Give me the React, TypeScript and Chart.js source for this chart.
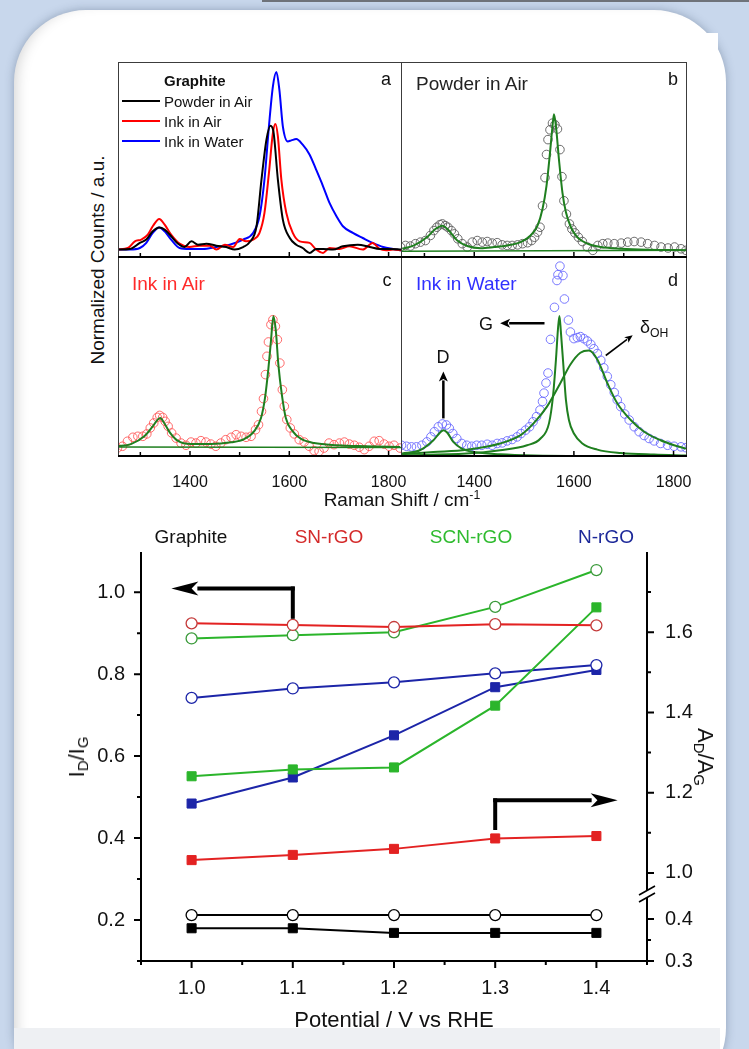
import React, { useEffect, useRef } from 'react';
import { Chart, registerables } from 'chart.js';

Chart.register(...registerables);

const FONT = "'Liberation Sans', Arial, Helvetica, sans-serif";

// ---------- Raman spectra (top figure) ----------
const ramanMin = 1255;
const ramanMax = 1827;
const ramanTicks = [1300, 1400, 1500, 1600, 1700, 1800];
const ramanLabelled = [1400, 1600, 1800];

// panel a
const powderShiftA = [1255,1279,1299,1312,1325,1338,1349,1362,1376,1389,1403,1416,1433,1453,1473,1490,1507,1520,1534,1544,1554,1562,1568,1577,1587,1601,1614,1627,1641,1654,1668,1688,1708,1738,1762,1782,1802,1826];
const powderCountsA = [0.043,0.046,0.077,0.094,0.136,0.156,0.145,0.111,0.073,0.056,0.085,0.068,0.073,0.063,0.056,0.043,0.056,0.080,0.162,0.400,0.604,0.675,0.646,0.400,0.196,0.102,0.068,0.051,0.026,0.046,0.046,0.043,0.060,0.068,0.056,0.046,0.046,0.043];
const inkAirShiftA = [1255,1275,1289,1302,1315,1325,1338,1349,1362,1379,1399,1419,1440,1453,1470,1487,1500,1513,1527,1540,1550,1559,1567,1572,1577,1584,1594,1607,1621,1641,1654,1668,1681,1701,1721,1748,1768,1782,1795,1809,1826];
const inkAirCountsA = [0.043,0.051,0.085,0.094,0.119,0.162,0.199,0.170,0.119,0.073,0.056,0.063,0.063,0.043,0.068,0.056,0.097,0.085,0.094,0.128,0.230,0.434,0.638,0.684,0.621,0.400,0.230,0.128,0.085,0.077,0.043,0.026,0.051,0.046,0.060,0.043,0.077,0.046,0.039,0.043,0.039];
const inkWaterShiftA = [1255,1279,1299,1312,1325,1338,1349,1362,1379,1399,1426,1453,1480,1507,1527,1540,1550,1559,1567,1574,1580,1587,1597,1604,1614,1627,1641,1654,1668,1681,1695,1708,1728,1748,1768,1789,1809,1826];
const inkWaterCountsA = [0.043,0.043,0.051,0.077,0.128,0.156,0.136,0.094,0.051,0.046,0.046,0.056,0.068,0.094,0.128,0.213,0.400,0.672,0.876,0.949,0.859,0.672,0.595,0.600,0.607,0.578,0.527,0.451,0.366,0.281,0.213,0.162,0.128,0.102,0.077,0.056,0.046,0.039];

// panel b
const powderShiftB = [1252,1262,1272,1282,1292,1302,1312,1319,1325,1331,1336,1342,1347,1354,1360,1367,1376,1386,1396,1406,1416,1426,1436,1446,1456,1466,1476,1487,1497,1507,1515,1521,1527,1532,1537,1542,1545,1548,1552,1557,1562,1567,1572,1576,1580,1585,1591,1596,1602,1609,1617,1627,1638,1648,1658,1668,1681,1695,1708,1721,1735,1748,1762,1775,1789,1802,1815,1825];
const powderCountsB = [0.056,0.064,0.061,0.073,0.081,0.089,0.115,0.140,0.157,0.170,0.174,0.165,0.157,0.140,0.123,0.098,0.073,0.056,0.081,0.089,0.081,0.084,0.076,0.078,0.067,0.064,0.064,0.067,0.073,0.078,0.089,0.106,0.132,0.157,0.266,0.410,0.528,0.604,0.654,0.688,0.680,0.658,0.553,0.415,0.292,0.224,0.174,0.148,0.128,0.106,0.084,0.056,0.039,0.064,0.073,0.076,0.073,0.076,0.081,0.084,0.081,0.073,0.064,0.056,0.051,0.056,0.047,0.039];
const fitShiftB = [1256,1279,1305,1322,1336,1349,1366,1386,1413,1440,1466,1493,1513,1527,1537,1545,1552,1557,1560,1564,1570,1577,1584,1594,1607,1627,1654,1695,1748,1825];
const fitCountsB = [0.047,0.064,0.106,0.148,0.165,0.140,0.089,0.061,0.050,0.056,0.064,0.081,0.115,0.165,0.250,0.368,0.536,0.671,0.733,0.671,0.503,0.334,0.233,0.157,0.106,0.073,0.056,0.047,0.042,0.040];
const baseShiftB = [1255, 1827];
const baseCountsB = [0.035, 0.040];

// panel c
const inkAirShiftC = [1254,1264,1274,1285,1295,1305,1313,1320,1327,1334,1339,1345,1350,1356,1363,1372,1382,1392,1402,1412,1422,1432,1442,1452,1462,1472,1483,1493,1503,1513,1523,1532,1538,1544,1548,1552,1555,1558,1563,1567,1572,1576,1581,1586,1590,1595,1602,1610,1620,1630,1640,1650,1660,1670,1680,1690,1701,1711,1721,1731,1741,1751,1761,1771,1781,1791,1801,1811,1823];
const inkAirCountsC = [0.045,0.054,0.079,0.099,0.104,0.104,0.116,0.146,0.171,0.199,0.209,0.199,0.179,0.154,0.121,0.095,0.070,0.059,0.075,0.070,0.082,0.075,0.065,0.054,0.070,0.087,0.099,0.112,0.104,0.099,0.104,0.137,0.162,0.229,0.293,0.414,0.506,0.578,0.665,0.690,0.657,0.590,0.472,0.338,0.255,0.188,0.146,0.116,0.087,0.075,0.054,0.032,0.028,0.045,0.070,0.062,0.070,0.075,0.065,0.059,0.049,0.037,0.054,0.079,0.082,0.065,0.054,0.059,0.045];
const fitShiftC = [1253,1281,1308,1325,1335,1340,1348,1360,1375,1402,1442,1483,1509,1529,1543,1551,1558,1563,1568,1573,1578,1585,1593,1607,1623,1650,1697,1751,1823];
const fitCountsC = [0.054,0.065,0.104,0.154,0.188,0.196,0.171,0.121,0.082,0.065,0.065,0.074,0.090,0.129,0.196,0.296,0.447,0.581,0.707,0.631,0.464,0.313,0.196,0.129,0.092,0.070,0.059,0.054,0.050];
const baseShiftC = [1255, 1827];
const baseCountsC = [0.050, 0.048];

// panel d
const inkWaterShiftD = [1254,1264,1274,1284,1295,1305,1313,1320,1328,1336,1344,1350,1357,1365,1375,1385,1395,1405,1415,1426,1436,1446,1456,1466,1476,1486,1494,1503,1511,1518,1525,1532,1537,1540,1544,1548,1553,1561,1566,1568,1572,1578,1581,1589,1593,1600,1607,1613,1620,1627,1634,1640,1647,1654,1660,1667,1674,1681,1687,1694,1702,1711,1721,1731,1741,1751,1761,1774,1788,1801,1815,1825];
const inkWaterCountsD = [0.059,0.054,0.051,0.051,0.059,0.076,0.101,0.127,0.152,0.166,0.161,0.144,0.118,0.093,0.068,0.059,0.054,0.059,0.059,0.064,0.059,0.068,0.071,0.081,0.088,0.101,0.118,0.135,0.152,0.177,0.203,0.236,0.279,0.321,0.372,0.422,0.591,0.752,0.887,0.916,0.959,0.912,0.794,0.688,0.628,0.595,0.600,0.605,0.595,0.583,0.566,0.544,0.520,0.486,0.448,0.405,0.363,0.324,0.287,0.253,0.216,0.186,0.152,0.127,0.108,0.093,0.081,0.068,0.059,0.054,0.051,0.047];
const dBandShiftD = [1254,1291,1318,1331,1338,1346,1358,1375,1399,1452,1519,1654,1825];
const dBandCountsD = [0.017,0.034,0.084,0.122,0.135,0.122,0.076,0.042,0.025,0.014,0.008,0.005,0.003];
const gBandShiftD = [1254,1385,1452,1506,1533,1550,1558,1564,1568,1571,1574,1579,1584,1590,1600,1617,1647,1694,1761,1825];
const gBandCountsD = [0.008,0.017,0.034,0.059,0.093,0.169,0.304,0.490,0.642,0.709,0.625,0.456,0.287,0.186,0.118,0.068,0.037,0.020,0.012,0.008];
const ohBandShiftD = [1254,1318,1385,1452,1493,1519,1546,1573,1593,1613,1630,1647,1667,1687,1714,1741,1774,1801,1825];
const ohBandCountsD = [0.014,0.025,0.037,0.068,0.110,0.169,0.253,0.372,0.465,0.524,0.535,0.490,0.372,0.270,0.186,0.127,0.084,0.059,0.042];
const baseShiftD = [1255, 1827];
const baseCountsD = [0.005, 0.005];

// ---------- I_D/I_G and A_D/A_G vs potential (bottom figure) ----------
const potential = [1.0, 1.1, 1.2, 1.3, 1.4];
const graphiteIDIG = [0.212, 0.212, 0.212, 0.212, 0.212];
const snIDIG = [0.924, 0.920, 0.915, 0.922, 0.919];
const scnIDIG = [0.887, 0.895, 0.902, 0.964, 1.054];
const nIDIG = [0.742, 0.765, 0.780, 0.802, 0.822];
const graphiteADAG = [0.378, 0.378, 0.367, 0.367, 0.367];
const snADAG = [1.032, 1.045, 1.060, 1.086, 1.092];
const scnADAG = [1.241, 1.258, 1.263, 1.417, 1.662];
const nADAG = [1.173, 1.238, 1.343, 1.463, 1.506];
const potentialTicks = [0.95, 1.0, 1.05, 1.1, 1.15, 1.2, 1.25, 1.3, 1.35, 1.4, 1.45];
const idigTicks = [0.1, 0.2, 0.3, 0.4, 0.5, 0.6, 0.7, 0.8, 0.9, 1.0];
const adagUpperTicks = [1.0, 1.1, 1.2, 1.3, 1.4, 1.5, 1.6, 1.7];
const adagLowerTicks = [0.3, 0.35, 0.4];

const GREEN_FIT = '#1f7f1f';
const RED = '#e32222';
const GREEN = '#2bb52b';
const BLUE = '#1c25a8';

const pts = (xs: number[], ys: number[]) => xs.map((x, i) => ({ x, y: ys[i] }));

const lineDs = (xs: number[], ys: number[], color: string, width = 2) => ({
  data: pts(xs, ys),
  showLine: true,
  borderColor: color,
  backgroundColor: color,
  borderWidth: width,
  pointRadius: 0,
  pointHoverRadius: 0,
  cubicInterpolationMode: 'monotone',
  fill: false,
});

const circleDs = (xs: number[], ys: number[], color: string) => ({
  data: pts(xs, ys),
  showLine: false,
  borderColor: color,
  pointRadius: 4.3,
  pointHoverRadius: 4.3,
  pointBorderWidth: 0.9,
  pointBorderColor: color,
  pointBackgroundColor: 'rgba(0,0,0,0)',
});

function drawArrow(ctx: CanvasRenderingContext2D, x1: number, y1: number, x2: number, y2: number, lw: number, headLen: number, headHalf: number) {
  const ang = Math.atan2(y2 - y1, x2 - x1);
  const bx = x2 - headLen * Math.cos(ang);
  const by = y2 - headLen * Math.sin(ang);
  ctx.lineWidth = lw;
  ctx.beginPath();
  ctx.moveTo(x1, y1);
  ctx.lineTo(bx + Math.cos(ang), by + Math.sin(ang));
  ctx.stroke();
  ctx.beginPath();
  ctx.moveTo(x2, y2);
  ctx.lineTo(bx + headHalf * Math.sin(ang), by - headHalf * Math.cos(ang));
  ctx.lineTo(bx + 0.25 * headLen * Math.cos(ang), by + 0.25 * headLen * Math.sin(ang));
  ctx.lineTo(bx - headHalf * Math.sin(ang), by + headHalf * Math.cos(ang));
  ctx.closePath();
  ctx.fill();
}

type FrameOpts = { drawTop: boolean; drawLeft: boolean; extra?: (chart: any) => void };

const framePlugin = (o: FrameOpts) => ({
  id: 'frame',
  afterDraw(chart: any) {
    const { ctx, chartArea: a, scales } = chart;
    ctx.save();
    ctx.strokeStyle = '#3c3c3c';
    ctx.lineWidth = 1;
    ctx.beginPath();
    if (o.drawTop) { ctx.moveTo(a.left, a.top + 0.5); ctx.lineTo(a.right, a.top + 0.5); }
    if (o.drawLeft) { ctx.moveTo(a.left + 0.5, a.top); ctx.lineTo(a.left + 0.5, a.bottom); }
    ctx.moveTo(a.right - 0.5, a.top); ctx.lineTo(a.right - 0.5, a.bottom);
    ctx.stroke();
    ctx.strokeStyle = '#000';
    ctx.lineWidth = 2;
    ctx.beginPath();
    ctx.moveTo(a.left, a.bottom - 1);
    ctx.lineTo(a.right, a.bottom - 1);
    ctx.stroke();
    ctx.lineWidth = 1.5;
    for (const t of ramanTicks) {
      const x = scales.x.getPixelForValue(t);
      const len = ramanLabelled.includes(t) ? 5 : 4;
      ctx.beginPath();
      ctx.moveTo(x, a.bottom - 1);
      ctx.lineTo(x, a.bottom - 1 - len);
      ctx.stroke();
    }
    if (o.extra) o.extra(chart);
    ctx.restore();
  },
});

function spectraConfig(datasets: any[], showX: boolean, frame: FrameOpts): any {
  return {
    type: 'scatter',
    data: { datasets },
    options: {
      animation: false,
      responsive: false,
      maintainAspectRatio: false,
      events: [],
      layout: { padding: { left: 0, top: 0, bottom: 0, right: showX ? 30 : 0 }, autoPadding: false },
      plugins: { legend: { display: false }, tooltip: { enabled: false } },
      scales: {
        x: {
          type: 'linear',
          min: ramanMin,
          max: ramanMax,
          display: showX,
          grid: { display: false },
          border: { display: false },
          afterBuildTicks: (s: any) => { s.ticks = ramanTicks.map((v) => ({ value: v })); },
          afterFit: (s: any) => {
            if (showX) s.height = 45;
            s.paddingLeft = 0;
            s.paddingRight = 0;
          },
          ticks: {
            autoSkip: false,
            maxRotation: 0,
            padding: 8,
            color: '#111',
            font: { family: FONT, size: 16 },
            callback: (v: any) => (ramanLabelled.includes(Number(v)) ? String(v) : ''),
          },
        },
        y: { type: 'linear', min: 0, max: 1, display: false },
      },
    },
    plugins: [framePlugin(frame)],
  };
}

const panelDExtra = (chart: any) => {
  const { ctx, scales: { x, y } } = chart;
  ctx.strokeStyle = '#000';
  ctx.fillStyle = '#000';
  drawArrow(ctx, x.getPixelForValue(1338), y.getPixelForValue(0.194), x.getPixelForValue(1338), y.getPixelForValue(0.43), 2.5, 10, 4.5);
  drawArrow(ctx, x.getPixelForValue(1541), y.getPixelForValue(0.672), x.getPixelForValue(1452), y.getPixelForValue(0.672), 2.5, 10, 4.5);
  drawArrow(ctx, x.getPixelForValue(1664), y.getPixelForValue(0.51), x.getPixelForValue(1718), y.getPixelForValue(0.612), 1.6, 8, 3.5);
};

const isEvenTenth = (v: number) => Math.round(v * 10) % 2 === 0;
const isTenth = (v: number) => Math.round(v * 100) % 10 === 0;

const tickFont = { family: FONT, size: 20 };

const potentialPlugin = {
  id: 'potentialAxes',
  afterDraw(chart: any) {
    const { ctx, chartArea: a, scales } = chart;
    const { x, y, y2, y3 } = scales;
    ctx.save();
    ctx.strokeStyle = '#000';
    ctx.fillStyle = '#000';
    ctx.lineWidth = 2;
    const R = a.right;
    const gapTop = y2.bottom - 3;
    const gapBottom = y2.bottom + 5;
    ctx.beginPath();
    ctx.moveTo(a.left, a.top); ctx.lineTo(a.left, a.bottom + 1);
    ctx.moveTo(a.left - 1, a.bottom); ctx.lineTo(R + 1, a.bottom);
    ctx.moveTo(R, a.top); ctx.lineTo(R, gapTop);
    ctx.moveTo(R, gapBottom); ctx.lineTo(R, a.bottom + 1);
    ctx.stroke();
    // break marks
    ctx.lineWidth = 1.6;
    ctx.beginPath();
    ctx.moveTo(R - 8, gapTop + 5); ctx.lineTo(R + 8, gapTop - 4);
    ctx.moveTo(R - 8, gapBottom + 4); ctx.lineTo(R + 8, gapBottom - 5);
    ctx.stroke();
    // ticks
    ctx.lineWidth = 2;
    ctx.beginPath();
    y.ticks.forEach((t: any) => {
      const py = y.getPixelForValue(t.value);
      const len = isEvenTenth(t.value) ? 7 : 4;
      ctx.moveTo(a.left, py); ctx.lineTo(a.left - len, py);
    });
    x.ticks.forEach((t: any) => {
      const px = x.getPixelForValue(t.value);
      const len = isTenth(t.value) ? 7 : 4;
      ctx.moveTo(px, a.bottom); ctx.lineTo(px, a.bottom + len);
    });
    y2.ticks.forEach((t: any) => {
      const py = y2.getPixelForValue(t.value);
      const len = isEvenTenth(t.value) ? 7 : 4;
      ctx.moveTo(R, py); ctx.lineTo(R + len, py);
    });
    y3.ticks.forEach((t: any) => {
      const py = y3.getPixelForValue(t.value);
      const len = isTenth(t.value) ? 7 : 4;
      ctx.moveTo(R, py); ctx.lineTo(R + len, py);
    });
    ctx.stroke();
    // annotation arrows
    ctx.lineWidth = 4;
    const lx = x.getPixelForValue(1.1);
    const ly0 = y.getPixelForValue(0.935);
    const ly1 = y.getPixelForValue(1.009);
    ctx.beginPath(); ctx.moveTo(lx, ly0); ctx.lineTo(lx, ly1 - 2); ctx.stroke();
    drawArrow(ctx, lx + 2, ly1, x.getPixelForValue(0.98), ly1, 4, 27, 7);
    const rx = x.getPixelForValue(1.3);
    const ry0 = y2.getPixelForValue(1.107);
    const ry1 = y2.getPixelForValue(1.181);
    ctx.lineWidth = 4;
    ctx.beginPath(); ctx.moveTo(rx, ry0); ctx.lineTo(rx, ry1 - 2); ctx.stroke();
    drawArrow(ctx, rx - 2, ry1, x.getPixelForValue(1.421), ry1, 4, 27, 7);
    ctx.restore();
  },
};

const openCircles = (vals: number[], line: string, edge: string) => ({
  data: pts(potential, vals),
  yAxisID: 'y',
  showLine: true,
  borderColor: line,
  borderWidth: 2,
  pointStyle: 'circle',
  pointRadius: 5.5,
  pointHoverRadius: 5.5,
  pointBorderWidth: 1.3,
  pointBorderColor: edge,
  pointBackgroundColor: '#fff',
});

const filledSquares = (vals: number[], color: string, axis: string) => ({
  data: pts(potential, vals),
  yAxisID: axis,
  showLine: true,
  borderColor: color,
  borderWidth: 2,
  pointStyle: 'rect',
  pointRadius: 6.4,
  pointHoverRadius: 6.4,
  pointBorderWidth: 1,
  pointBorderColor: color,
  pointBackgroundColor: color,
});

function potentialConfig(): any {
  return {
    type: 'scatter',
    data: {
      datasets: [
        openCircles(graphiteIDIG, '#000', '#000'),
        filledSquares(graphiteADAG, '#000', 'y3'),
        openCircles(snIDIG, RED, '#c43a3a'),
        filledSquares(snADAG, RED, 'y2'),
        openCircles(scnIDIG, GREEN, '#3a9a3a'),
        filledSquares(scnADAG, GREEN, 'y2'),
        openCircles(nIDIG, BLUE, BLUE),
        filledSquares(nADAG, BLUE, 'y2'),
      ],
    },
    options: {
      animation: false,
      responsive: false,
      maintainAspectRatio: false,
      events: [],
      layout: { padding: { top: 32, left: 0, right: 0, bottom: 0 }, autoPadding: false },
      plugins: { legend: { display: false }, tooltip: { enabled: false } },
      scales: {
        x: {
          type: 'linear',
          position: 'bottom',
          min: 0.95,
          max: 1.45,
          grid: { display: false },
          border: { display: false },
          afterBuildTicks: (s: any) => { s.ticks = potentialTicks.map((v) => ({ value: v })); },
          afterFit: (s: any) => { s.height = 69; s.paddingLeft = 0; s.paddingRight = 0; },
          ticks: {
            autoSkip: false, maxRotation: 0, padding: 7, color: '#111', font: tickFont,
            callback: (v: any) => (isTenth(Number(v)) ? Number(v).toFixed(1) : ''),
          },
        },
        y: {
          type: 'linear',
          position: 'left',
          min: 0.1,
          max: 1.098,
          grid: { display: false },
          border: { display: false },
          afterBuildTicks: (s: any) => { s.ticks = idigTicks.map((v) => ({ value: v })); },
          afterFit: (s: any) => { s.width = 81; s.paddingTop = 0; s.paddingBottom = 0; },
          ticks: {
            autoSkip: false, padding: 8, color: '#111', font: tickFont,
            callback: (v: any) => (isEvenTenth(Number(v)) && Number(v) > 0.15 ? Number(v).toFixed(1) : ''),
          },
        },
        y2: {
          type: 'linear',
          position: 'right',
          stack: 'adag',
          stackWeight: 341,
          min: 0.95,
          max: 1.8,
          grid: { display: false },
          border: { display: false },
          afterBuildTicks: (s: any) => { s.ticks = adagUpperTicks.map((v) => ({ value: v })); },
          afterFit: (s: any) => { s.width = 93; s.paddingTop = 0; s.paddingBottom = 0; },
          ticks: {
            autoSkip: false, padding: 10, color: '#111', font: tickFont,
            callback: (v: any) => (isEvenTenth(Number(v)) ? Number(v).toFixed(1) : ''),
          },
        },
        y3: {
          type: 'linear',
          position: 'right',
          stack: 'adag',
          stackWeight: 68,
          min: 0.3,
          max: 0.462,
          grid: { display: false },
          border: { display: false },
          afterBuildTicks: (s: any) => { s.ticks = adagLowerTicks.map((v) => ({ value: v })); },
          afterFit: (s: any) => { s.width = 93; s.paddingTop = 0; s.paddingBottom = 0; },
          ticks: {
            autoSkip: false, padding: 10, color: '#111', font: tickFont,
            callback: (v: any) => (isTenth(Number(v)) ? Number(v).toFixed(1) : ''),
          },
        },
      },
    },
    plugins: [potentialPlugin],
  };
}

function ChartCanvas({ left, top, width, height, config }: { left: number; top: number; width: number; height: number; config: () => any }) {
  const ref = useRef<HTMLCanvasElement | null>(null);
  useEffect(() => {
    if (!ref.current) return;
    const chart = new Chart(ref.current, config());
    return () => chart.destroy();
  }, []);
  return (
    <canvas
      ref={ref}
      width={width}
      height={height}
      style={{ position: 'absolute', left, top, width, height, display: 'block' }}
    />
  );
}

function T({ x, y, size, children, color = '#111', align = 'left', bold = false, rotate = 0 }: any) {
  const style: any = {
    position: 'absolute',
    left: x,
    fontSize: size,
    lineHeight: `${size}px`,
    color,
    whiteSpace: 'nowrap',
    fontFamily: FONT,
    fontWeight: bold ? 700 : 400,
  };
  if (rotate) {
    style.top = y;
    style.transform = `translate(-50%, -50%) rotate(${rotate}deg)`;
  } else {
    style.top = y - 0.49 * size;
    if (align === 'center') style.transform = 'translateX(-50%)';
    if (align === 'right') style.transform = 'translateX(-100%)';
  }
  return <div style={style}>{children}</div>;
}

const subStyle: any = { fontSize: '0.68em', verticalAlign: '-0.3em', lineHeight: 0 };
const supStyle: any = { fontSize: '0.65em', verticalAlign: '0.55em', lineHeight: 0 };

function LegendLine({ y, color }: { y: number; color: string }) {
  return <div style={{ position: 'absolute', left: 122, top: y - 1.3, width: 38, height: 2.6, background: color }} />;
}

export default function App() {
  return (
    <div style={{ position: 'absolute', left: 0, top: 0, width: 749, height: 1049, overflow: 'hidden', background: '#c8d7ec', fontFamily: FONT }}>
      <div style={{ position: 'absolute', left: 262, top: 0, width: 487, height: 2, background: '#6f737a' }} />
      <div style={{ position: 'absolute', left: 14, top: 10, width: 712, height: 1090, borderRadius: 72, background: '#fff', boxShadow: '0 0 10px rgba(40,60,90,0.35), inset 10px 0 14px -8px rgba(0,0,0,0.18)' }} />
      <div style={{ position: 'absolute', left: 62, top: 33, width: 656, height: 994, background: '#fff' }} />
      <div style={{ position: 'absolute', left: 14, top: 1028, width: 706, height: 21, background: '#eef0f3' }} />

      {/* spectra panels */}
      <ChartCanvas left={118} top={62} width={284} height={196} config={() => spectraConfig([
        lineDs(powderShiftA, powderCountsA, '#000'),
        lineDs(inkAirShiftA, inkAirCountsA, '#ff0000'),
        lineDs(inkWaterShiftA, inkWaterCountsA, '#0000ff'),
      ], false, { drawTop: true, drawLeft: true })} />
      <ChartCanvas left={402} top={62} width={285} height={196} config={() => spectraConfig([
        lineDs(fitShiftB, fitCountsB, GREEN_FIT),
        lineDs(baseShiftB, baseCountsB, GREEN_FIT, 1.5),
        circleDs(powderShiftB, powderCountsB, '#5c5c5c'),
      ], false, { drawTop: true, drawLeft: false })} />
      <ChartCanvas left={118} top={258} width={314} height={244} config={() => spectraConfig([
        lineDs(fitShiftC, fitCountsC, GREEN_FIT),
        lineDs(baseShiftC, baseCountsC, GREEN_FIT, 1.5),
        circleDs(inkAirShiftC, inkAirCountsC, '#ff5a5a'),
      ], true, { drawTop: false, drawLeft: true })} />
      <ChartCanvas left={402} top={258} width={315} height={244} config={() => spectraConfig([
        lineDs(dBandShiftD, dBandCountsD, GREEN_FIT),
        lineDs(gBandShiftD, gBandCountsD, GREEN_FIT),
        lineDs(ohBandShiftD, ohBandCountsD, GREEN_FIT),
        lineDs(baseShiftD, baseCountsD, GREEN_FIT, 1.5),
        circleDs(inkWaterShiftD, inkWaterCountsD, '#6b6bff'),
      ], true, { drawTop: false, drawLeft: false, extra: panelDExtra })} />

      {/* spectra texts */}
      <T x={97} y={260} size={19} rotate={-90}>Normalized Counts / a.u.</T>
      <T x={402} y={499} size={19} align="center">Raman Shift / cm<sup style={supStyle}>-1</sup></T>
      <T x={164} y={80} size={15} bold>Graphite</T>
      <LegendLine y={101} color="#000" />
      <LegendLine y={121} color="#ff0000" />
      <LegendLine y={141} color="#0000ff" />
      <T x={164} y={101} size={15}>Powder in Air</T>
      <T x={164} y={121} size={15}>Ink in Air</T>
      <T x={164} y={141} size={15}>Ink in Water</T>
      <T x={386} y={79} size={18} align="center">a</T>
      <T x={673} y={79} size={18} align="center">b</T>
      <T x={387} y={280} size={18} align="center">c</T>
      <T x={673} y={280} size={18} align="center">d</T>
      <T x={416} y={83} size={19} color="#222">Powder in Air</T>
      <T x={132} y={283} size={19} color="#ff2a2a">Ink in Air</T>
      <T x={416} y={283} size={19} color="#3030ff">Ink in Water</T>
      <T x={443} y={357} size={18} align="center">D</T>
      <T x={486} y={324} size={18} align="center">G</T>
      <T x={640} y={327} size={18}>δ<sub style={subStyle}>OH</sub></T>

      {/* potential chart */}
      <ChartCanvas left={60} top={520} width={680} height={510} config={potentialConfig} />
      <T x={191} y={536} size={19} align="center" color="#111">Graphite</T>
      <T x={329} y={536} size={19} align="center" color="#d42a2a">SN-rGO</T>
      <T x={471} y={536} size={19} align="center" color="#2fbb2f">SCN-rGO</T>
      <T x={606} y={536} size={19} align="center" color="#1c2899">N-rGO</T>
      <T x={77} y={757} size={22} rotate={-90}>I<sub style={subStyle}>D</sub>/I<sub style={subStyle}>G</sub></T>
      <T x={705} y={757} size={22} rotate={90}>A<sub style={subStyle}>D</sub>/A<sub style={subStyle}>G</sub></T>
      <T x={394} y={1020} size={22} align="center">Potential / V vs RHE</T>
    </div>
  );
}
